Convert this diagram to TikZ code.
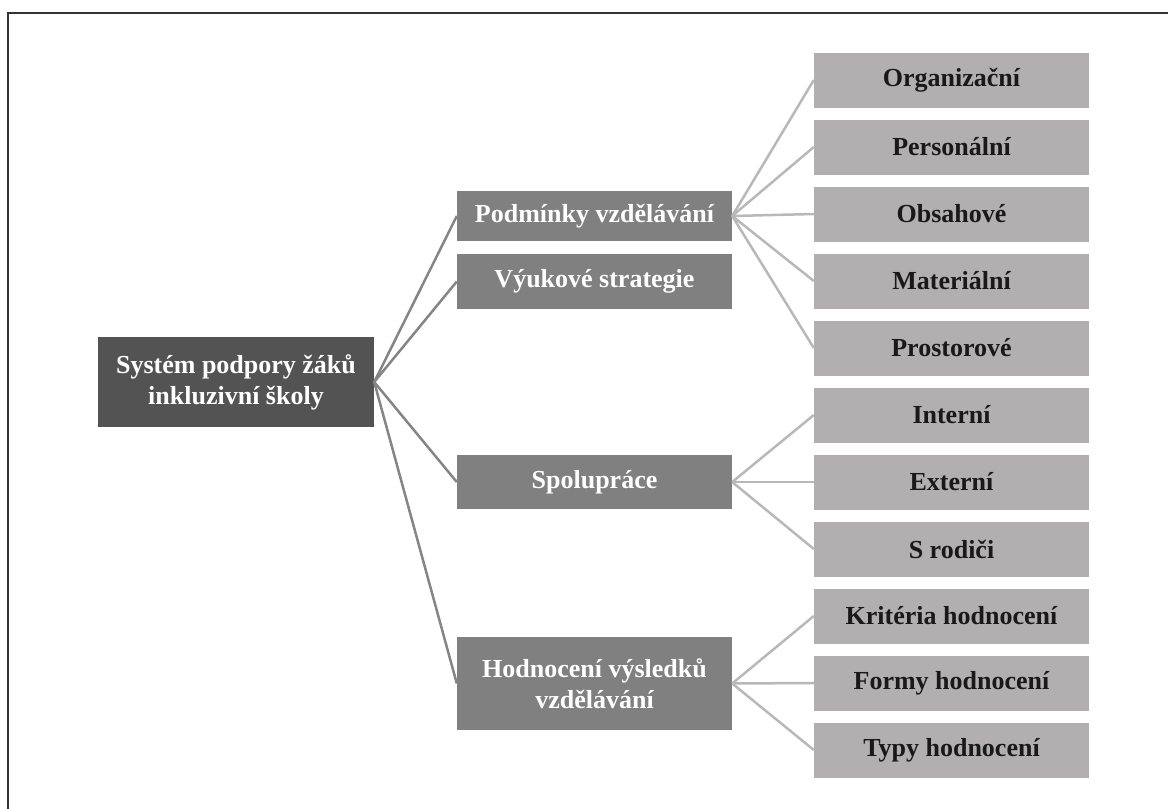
\documentclass[tikz,border=0pt]{standalone}
\usepackage{fontspec}
\setmainfont{Liberation Serif}
\definecolor{cRoot}{HTML}{545353}
\definecolor{cMid}{HTML}{808080}
\definecolor{cLeaf}{HTML}{B1AFAF}
\definecolor{cRootLine}{HTML}{858585}
\definecolor{cLeafLine}{HTML}{B8B8B8}
\definecolor{cFrame}{HTML}{333333}
\begin{document}
\begin{tikzpicture}[x=1pt,y=-1pt,
  box/.style={rectangle, inner sep=0pt, minimum width=275pt, font=\fontsize{26}{31}\selectfont\bfseries, align=center},
  rootbox/.style={box, fill=cRoot, text=white, minimum width=276pt, minimum height=90pt},
  midbox/.style={box, fill=cMid, text=white},
  leafbox/.style={box, fill=cLeaf, text=black!90, minimum height=55pt},
  rootedge/.style={draw=cRootLine, line width=2.5pt},
  leafedge/.style={draw=cLeafLine, line width=2.5pt},
  borderline/.style={draw=cFrame, line width=2.5pt}]
\useasboundingbox (0,0) rectangle (1168,809);
\draw[borderline] (8,809) -- (8,13) -- (1168,13);

\node[rootbox] (root) at (236,382) {Systém podpory žáků\\inkluzivní školy};

\node[midbox, minimum height=50pt] (pod) at (594.5,216) {Podmínky vzdělávání};
\node[midbox, minimum height=55pt] (vyu) at (594.5,281.5) {Výukové strategie};
\node[midbox, minimum height=54pt] (spo) at (594.5,482) {Spolupráce};
\node[midbox, minimum height=93pt] (hod) at (594.5,683.5) {Hodnocení výsledků\\vzdělávání};

\node[leafbox] (org) at (951.5,80) {Organizační};
\node[leafbox] (per) at (951.5,147) {Personální};
\node[leafbox] (obs) at (951.5,214) {Obsahové};
\node[leafbox] (mat) at (951.5,281) {Materiální};
\node[leafbox] (pro) at (951.5,348) {Prostorové};
\node[leafbox] (int) at (951.5,415) {Interní};
\node[leafbox] (ext) at (951.5,482) {Externí};
\node[leafbox] (rod) at (951.5,549) {S rodiči};
\node[leafbox] (kri) at (951.5,616) {Kritéria hodnocení};
\node[leafbox] (for) at (951.5,683) {Formy hodnocení};
\node[leafbox] (typ) at (951.5,750) {Typy hodnocení};

\foreach \m in {pod,vyu,spo,hod} \draw[rootedge] (root.east) -- (\m.west);
\foreach \l in {org,per,obs,mat,pro} \draw[leafedge] (pod.east) -- (\l.west);
\foreach \l in {int,ext,rod} \draw[leafedge] (spo.east) -- (\l.west);
\foreach \l in {kri,for,typ} \draw[leafedge] (hod.east) -- (\l.west);
\end{tikzpicture}
\end{document}
